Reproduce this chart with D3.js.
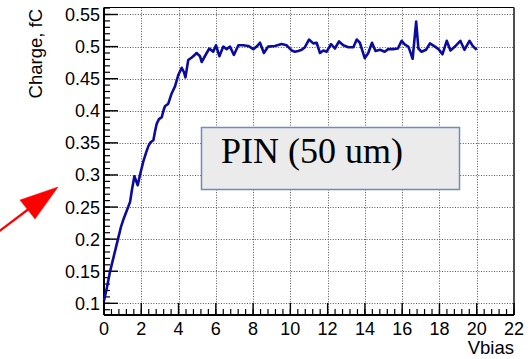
<!DOCTYPE html>
<html>
<head>
<meta charset="utf-8">
<script src="https://cdn.jsdelivr.net/npm/d3@7"></script>
<style>
  html, body { margin: 0; padding: 0; background: #fff; }
  svg { display: block; }
</style>
</head>
<body>
<svg id="chart" width="531" height="359"></svg>
<script>
// Collected charge versus bias voltage for a 50 um PIN sensor
const vbias = [
  0.00, 0.16, 0.32, 0.54, 0.75, 0.91, 1.07, 1.23, 1.40, 1.50,
  1.63, 1.72, 1.81, 1.93, 2.11, 2.25, 2.38, 2.50, 2.65, 2.74,
  2.83, 2.95, 3.10, 3.19, 3.27, 3.45, 3.63, 3.81, 3.99, 4.17,
  4.29, 4.37, 4.52, 4.71, 4.86, 4.97, 5.15, 5.24, 5.51, 5.65,
  5.86, 6.01, 6.19, 6.40, 6.58, 6.76, 6.97, 7.21, 7.47, 7.74,
  8.01, 8.19, 8.37, 8.58, 8.81, 9.17, 9.53, 9.80, 10.07, 10.25,
  10.42, 10.61, 10.78, 11.00, 11.23, 11.41, 11.59, 11.77, 11.95, 12.18,
  12.39, 12.61, 12.84, 13.11, 13.38, 13.56, 13.73, 13.99, 14.18, 14.38,
  14.57, 14.81, 15.06, 15.25, 15.52, 15.77, 15.97, 16.15, 16.33, 16.42,
  16.56, 16.75, 16.87, 17.04, 17.28, 17.49, 17.76, 17.95, 18.16, 18.39,
  18.59, 18.83, 19.12, 19.34, 19.61, 19.81, 20.00
];
const charge = [
  0.104, 0.125, 0.149, 0.175, 0.200, 0.219, 0.233, 0.245, 0.258, 0.277,
  0.298, 0.291, 0.284, 0.300, 0.321, 0.334, 0.345, 0.351, 0.354, 0.368,
  0.380, 0.387, 0.390, 0.400, 0.407, 0.411, 0.427, 0.438, 0.456, 0.467,
  0.460, 0.452, 0.479, 0.483, 0.487, 0.490, 0.485, 0.476, 0.490, 0.497,
  0.492, 0.502, 0.485, 0.500, 0.496, 0.500, 0.487, 0.502, 0.502, 0.501,
  0.496, 0.500, 0.506, 0.490, 0.500, 0.501, 0.504, 0.502, 0.494, 0.492,
  0.493, 0.495, 0.499, 0.511, 0.505, 0.506, 0.490, 0.494, 0.492, 0.504,
  0.497, 0.508, 0.502, 0.499, 0.499, 0.511, 0.506, 0.482, 0.490, 0.506,
  0.493, 0.495, 0.492, 0.496, 0.496, 0.497, 0.509, 0.503, 0.500, 0.493,
  0.481, 0.539, 0.497, 0.492, 0.495, 0.505, 0.500, 0.496, 0.488, 0.509,
  0.494, 0.500, 0.509, 0.495, 0.509, 0.500, 0.495
];

const xTicks = [0, 2, 4, 6, 8, 10, 12, 14, 16, 18, 20, 22];
const yTicks = [0.1, 0.15, 0.2, 0.25, 0.3, 0.35, 0.4, 0.45, 0.5, 0.55];
const xLabel = "Vbias";
const yLabel = "Charge, fC";
const legendText = "PIN (50 um)";

const svg = d3.select("#chart");
const frame = { left: 104, right: 514, top: 7.5, bottom: 315 };

const x = d3.scaleLinear().domain([0, 22]).range([frame.left, frame.right]);
const y = d3.scaleLinear().domain([0.0818, 0.5609]).range([frame.bottom, frame.top]);

const font = "'Liberation Sans', Arial, Helvetica, sans-serif";

// Dotted grid on major ticks
const grid = svg.append("g").attr("stroke", "#555").attr("stroke-width", 1)
  .attr("stroke-dasharray", "1,1.6");
grid.selectAll("line.gx").data(xTicks.filter(t => t > 0 && t < 22)).join("line")
  .attr("x1", d => Math.round(x(d)) + 0.5).attr("x2", d => Math.round(x(d)) + 0.5)
  .attr("y1", frame.top).attr("y2", frame.bottom);
grid.selectAll("line.gy").data(yTicks).join("line")
  .attr("y1", d => Math.round(y(d)) + 0.5).attr("y2", d => Math.round(y(d)) + 0.5)
  .attr("x1", frame.left).attr("x2", frame.right);

// Frame: top and right edges
svg.append("line").attr("x1", frame.left).attr("x2", frame.right)
  .attr("y1", frame.top).attr("y2", frame.top).attr("stroke", "#000").attr("stroke-width", 1);
svg.append("line").attr("x1", frame.right).attr("x2", frame.right)
  .attr("y1", frame.top).attr("y2", frame.bottom).attr("stroke", "#222").attr("stroke-width", 1.6);

// Bottom axis with inward ticks
const xMinor = d3.range(0, 22.001, 0.4).map(v => +v.toFixed(2));
const xAxis = svg.append("g").attr("transform", `translate(0,${frame.bottom})`);
xAxis.selectAll("line.minor").data(xMinor).join("line")
  .attr("x1", d => x(d)).attr("x2", d => x(d)).attr("y1", 0).attr("y2", -6)
  .attr("stroke", "#000").attr("stroke-width", 1.2);
xAxis.selectAll("line.major").data(xTicks).join("line")
  .attr("x1", d => x(d)).attr("x2", d => x(d)).attr("y1", 0).attr("y2", -12)
  .attr("stroke", "#000").attr("stroke-width", 1.4);
xAxis.append("line").attr("x1", frame.left).attr("x2", frame.right)
  .attr("stroke", "#000").attr("stroke-width", 2);
xAxis.selectAll("text").data(xTicks).join("text")
  .attr("x", d => x(d)).attr("y", 19.5)
  .attr("text-anchor", "middle").attr("font-family", font).attr("font-size", 18)
  .text(d => d);

// Left axis with inward ticks
const yMinor = d3.range(0.09, 0.5601, 0.01).map(v => +v.toFixed(3));
const yAxis = svg.append("g").attr("transform", `translate(${frame.left},0)`);
yAxis.selectAll("line.minor").data(yMinor).join("line")
  .attr("y1", d => y(d)).attr("y2", d => y(d)).attr("x1", 0).attr("x2", 6)
  .attr("stroke", "#000").attr("stroke-width", 1.2);
yAxis.selectAll("line.major").data(yTicks).join("line")
  .attr("y1", d => y(d)).attr("y2", d => y(d)).attr("x1", 0).attr("x2", 14)
  .attr("stroke", "#000").attr("stroke-width", 1.4);
yAxis.append("line").attr("y1", frame.top).attr("y2", frame.bottom)
  .attr("stroke", "#000").attr("stroke-width", 2);
yAxis.selectAll("text").data(yTicks).join("text")
  .attr("x", -4).attr("y", d => y(d) + 6.5)
  .attr("text-anchor", "end").attr("font-family", font).attr("font-size", 18)
  .text(d => d);

// Axis titles
svg.append("text").attr("x", frame.right).attr("y", 354)
  .attr("text-anchor", "end").attr("font-family", font).attr("font-size", 18.5)
  .text(xLabel);
svg.append("text").attr("transform", `translate(41.5,9) rotate(-90)`)
  .attr("text-anchor", "end").attr("font-family", font).attr("font-size", 18.5)
  .text(yLabel);

// Data curve
const line = d3.line().x((d, i) => x(vbias[i])).y(d => y(d));
svg.append("path").datum(charge)
  .attr("d", line).attr("fill", "none")
  .attr("stroke", "#0c0c9c").attr("stroke-width", 2.6)
  .attr("stroke-linejoin", "round");

// Legend box
const legend = svg.append("g");
legend.append("rect").attr("x", 201.5).attr("y", 127.5).attr("width", 258).attr("height", 62)
  .attr("fill", "#ebebeb").attr("stroke", "#6f8cc0").attr("stroke-width", 1.5);
legend.append("text").attr("x", 221).attr("y", 162.5)
  .attr("font-family", "'Liberation Serif', 'Times New Roman', serif").attr("font-size", 36)
  .text(legendText);

// Red arrow pointing at the plot
const arrow = svg.append("g").attr("fill", "#ff0000").attr("stroke", "#ff0000");
arrow.append("line").attr("x1", -2).attr("y1", 232).attr("x2", 30).attr("y2", 208)
  .attr("stroke-width", 2.2);
arrow.append("path").attr("d", "M58,187 L20,200 L35,219 Z").attr("stroke-width", 0.5);
</script>
</body>
</html>
